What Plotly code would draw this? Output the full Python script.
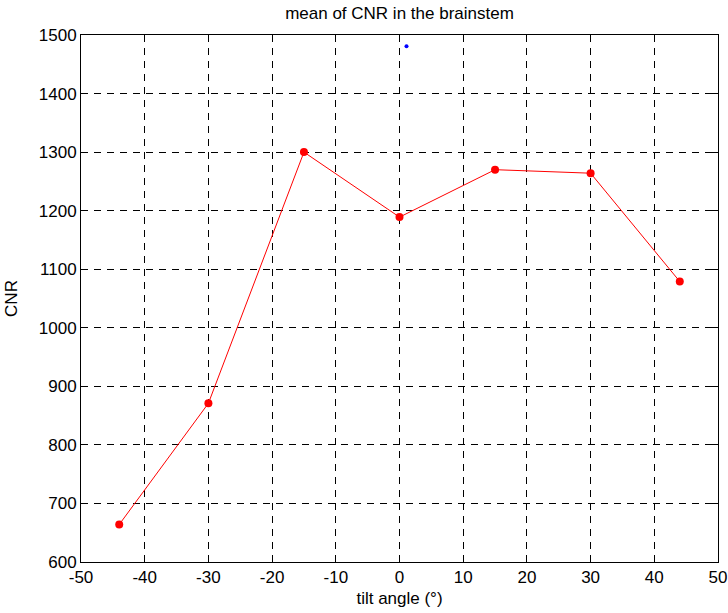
import plotly.graph_objects as go

tilt_angle = [-44, -30, -15, 0, 15, 30, 44]
cnr_mean = [664, 871, 1300, 1189, 1270, 1264, 1079]
extra_x = [1.1]
extra_y = [1481]

x_ticks = [-50, -40, -30, -20, -10, 0, 10, 20, 30, 40, 50]
y_ticks = [600, 700, 800, 900, 1000, 1100, 1200, 1300, 1400, 1500]

font = "Liberation Sans, Arial, Helvetica, sans-serif"

fig = go.Figure()
fig.add_trace(go.Scatter(
    x=tilt_angle, y=cnr_mean, mode="lines+markers",
    line=dict(color="#ff0000", width=1),
    marker=dict(color="#ff0000", size=8),
    showlegend=False,
))
fig.add_trace(go.Scatter(
    x=extra_x, y=extra_y, mode="markers",
    marker=dict(color="#0000ff", size=4),
    showlegend=False,
))

axis_common = dict(
    showline=True, linecolor="black", linewidth=1, mirror="allticks",
    ticks="inside", ticklen=6, tickcolor="black", tickwidth=1,
    showgrid=True, gridcolor="black", gridwidth=1, griddash="7px,6px",
    zeroline=False, automargin=False,
    tickfont=dict(family=font, size=17, color="black"),
)

fig.update_xaxes(
    range=[-50, 50], tickvals=x_ticks, ticktext=[str(v) for v in x_ticks],
    title=dict(text="tilt angle (°)", font=dict(family=font, size=17, color="black"), standoff=5),
    **axis_common,
)
fig.update_yaxes(
    range=[600, 1500], tickvals=y_ticks, ticktext=[str(v) for v in y_ticks],
    title=dict(text="CNR", font=dict(family=font, size=17, color="black"), standoff=16),
    **axis_common,
)

fig.update_layout(
    width=728, height=613,
    margin=dict(l=81, r=10, t=35, b=51),
    paper_bgcolor="white", plot_bgcolor="white",
    title=dict(text="mean of CNR in the brainstem", x=0.5, xanchor="center",
               xref="paper", y=0.989, yanchor="top",
               font=dict(family=font, size=17, color="black")),
)

fig.write_html("out.html")
